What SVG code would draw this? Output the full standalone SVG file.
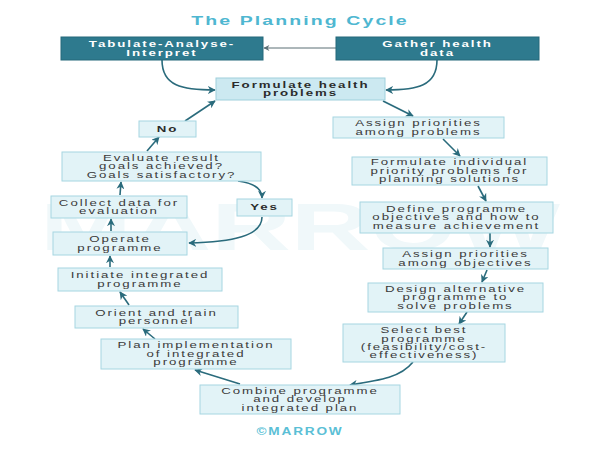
<svg xmlns="http://www.w3.org/2000/svg" width="600" height="450" viewBox="0 0 600 450">
<defs>
<style>
.bx{fill:#e2f3f7;stroke:#a6d6e1;stroke-width:1}
.bx2{fill:#cce9f1;stroke:#9fd0dc;stroke-width:1}
.dk{fill:#2e7a8e;stroke:#24687a;stroke-width:1}
.t{font-family:"Liberation Sans",Arial,sans-serif;font-size:8.2px;letter-spacing:1.2px;fill:#3a3a3a;text-anchor:middle}
.tb{font-family:"Liberation Sans",Arial,sans-serif;font-size:8.2px;font-weight:bold;letter-spacing:1.2px;fill:#2b2b2b;text-anchor:middle}
.tw{font-family:"Liberation Sans",Arial,sans-serif;font-size:8.2px;font-weight:bold;letter-spacing:1.2px;fill:#ffffff;text-anchor:middle}
.c{fill:none;stroke:#2a6b7c;stroke-width:1.6;marker-end:url(#ah)}
.c2{fill:none;stroke:#5b6f75;stroke-width:1;marker-end:url(#ah2)}
</style>
<marker id="ah" viewBox="0 0 10 10" refX="9" refY="5" markerWidth="8" markerHeight="8" markerUnits="userSpaceOnUse" orient="auto"><path d="M0,0 L10,5 L0,10 L3,5 z" fill="#2a6b7c"/></marker>
<marker id="ah2" viewBox="0 0 10 10" refX="9" refY="5" markerWidth="7" markerHeight="6" markerUnits="userSpaceOnUse" orient="auto"><path d="M0,0 L10,5 L0,10 L3,5 z" fill="#5b6f75"/></marker>
</defs>
<rect width="600" height="450" fill="#ffffff"/>
<text x="40" y="250" font-family="Liberation Sans,Arial,sans-serif" font-size="66" font-weight="bold" fill="#f0f8fa" textLength="520" lengthAdjust="spacingAndGlyphs">MARROW</text>
<text transform="translate(300,25) scale(1.5,1)" x="0" y="0" font-family="Liberation Sans,Arial,sans-serif" font-size="13" font-weight="bold" letter-spacing="1.4" fill="#4fb7d1" text-anchor="middle">The Planning Cycle</text>

<g id="connectors">
<path class="c2" d="M336,48 L264,48"/>
<path class="c" d="M162,60 C162,86 182,90 215,90"/>
<path class="c" d="M437,60 C437,86 417,90 386,90"/>
<path class="c" d="M383,101 L413,116"/>
<path class="c" d="M185,121 L215,101"/>
<path class="c" d="M147,151 L159,137"/>
<path class="c" d="M120,195 L121,182"/>
<path class="c" d="M111,231 L111,219"/>
<path class="c" d="M238,181 C254,183 262,188 262,198"/>
<path class="c" d="M262,217 C262,236 232,242 189,243"/>
<path class="c" d="M110,267 L110,256"/>
<path class="c" d="M129,305 L120,292"/>
<path class="c" d="M155,339 L143,329"/>
<path class="c" d="M240,384 L195,370"/>
<path class="c" d="M413,362 C401,377 382,380 350,385"/>
<path class="c" d="M467,312 L459,324"/>
<path class="c" d="M487,270 L482,282"/>
<path class="c" d="M490,233 L490,247"/>
<path class="c" d="M478,186 L486,201"/>
<path class="c" d="M443,139 L460,156"/>
</g>

<g id="n-tabulate"><rect class="dk" x="61" y="37" width="202" height="23"/><text class="tw" transform="translate(162,0) scale(1.62,1)"><tspan x="0" y="47.2">Tabulate-Analyse-</tspan><tspan x="0" y="55.6">Interpret</tspan></text></g>
<g id="n-gather"><rect class="dk" x="336" y="37" width="203" height="23"/><text class="tw" transform="translate(437.5,0) scale(1.62,1)"><tspan x="0" y="47.2">Gather health</tspan><tspan x="0" y="55.6">data</tspan></text></g>
<g id="n-formulate"><rect class="bx2" x="216" y="78" width="169" height="22"/><text class="tb" transform="translate(300.5,0) scale(1.62,1)"><tspan x="0" y="87.7">Formulate health</tspan><tspan x="0" y="96.1">problems</tspan></text></g>
<g id="n-no"><rect class="bx" x="139" y="121" width="57" height="16"/><text class="tb" transform="translate(167.5,0) scale(1.62,1)"><tspan x="0" y="132">No</tspan></text></g>
<g id="n-evaluate"><rect class="bx" x="62" y="152" width="199" height="29"/><text class="t" transform="translate(161.5,0) scale(1.62,1)"><tspan x="0" y="161">Evaluate result</tspan><tspan x="0" y="169.4">goals achieved?</tspan><tspan x="0" y="177.8">Goals satisfactory?</tspan></text></g>
<g id="n-collect"><rect class="bx" x="51" y="196" width="136" height="22"/><text class="t" transform="translate(119,0) scale(1.62,1)"><tspan x="0" y="205.7">Collect data for</tspan><tspan x="0" y="214.1">evaluation</tspan></text></g>
<g id="n-yes"><rect class="bx" x="237" y="199" width="55" height="17"/><text class="tb" transform="translate(264.5,0) scale(1.62,1)"><tspan x="0" y="210.5">Yes</tspan></text></g>
<g id="n-operate"><rect class="bx" x="53" y="232" width="134" height="23"/><text class="t" transform="translate(120,0) scale(1.62,1)"><tspan x="0" y="242.2">Operate</tspan><tspan x="0" y="250.6">programme</tspan></text></g>
<g id="n-initiate"><rect class="bx" x="58" y="268" width="164" height="23"/><text class="t" transform="translate(140,0) scale(1.62,1)"><tspan x="0" y="278.2">Initiate integrated</tspan><tspan x="0" y="286.6">programme</tspan></text></g>
<g id="n-orient"><rect class="bx" x="75" y="306" width="163" height="22"/><text class="t" transform="translate(156.5,0) scale(1.62,1)"><tspan x="0" y="315.7">Orient and train</tspan><tspan x="0" y="324.1">personnel</tspan></text></g>
<g id="n-plan"><rect class="bx" x="101" y="339" width="190" height="30"/><text class="t" transform="translate(196,0) scale(1.62,1)"><tspan x="0" y="348.5">Plan implementation</tspan><tspan x="0" y="356.9">of integrated</tspan><tspan x="0" y="365.3">programme</tspan></text></g>
<g id="n-combine"><rect class="bx" x="200" y="385" width="200" height="29"/><text class="t" transform="translate(300,0) scale(1.62,1)"><tspan x="0" y="394">Combine programme</tspan><tspan x="0" y="402.4">and develop</tspan><tspan x="0" y="410.8">integrated plan</tspan></text></g>
<g id="n-select"><rect class="bx" x="343" y="324" width="162" height="38"/><text class="t" transform="translate(424,0) scale(1.62,1)"><tspan x="0" y="333.3">Select best</tspan><tspan x="0" y="341.7">programme</tspan><tspan x="0" y="350.1">(feasibility/cost-</tspan><tspan x="0" y="358.5">effectiveness)</tspan></text></g>
<g id="n-design"><rect class="bx" x="368" y="283" width="175" height="29"/><text class="t" transform="translate(455.5,0) scale(1.62,1)"><tspan x="0" y="292">Design alternative</tspan><tspan x="0" y="300.4">programme to</tspan><tspan x="0" y="308.8">solve problems</tspan></text></g>
<g id="n-assign-obj"><rect class="bx" x="383" y="248" width="165" height="21"/><text class="t" transform="translate(465.5,0) scale(1.62,1)"><tspan x="0" y="257.2">Assign priorities</tspan><tspan x="0" y="265.6">among objectives</tspan></text></g>
<g id="n-define"><rect class="bx" x="360" y="202" width="193" height="31"/><text class="t" transform="translate(456.5,0) scale(1.62,1)"><tspan x="0" y="212">Define programme</tspan><tspan x="0" y="220.4">objectives and how to</tspan><tspan x="0" y="228.8">measure achievement</tspan></text></g>
<g id="n-formulate-ind"><rect class="bx" x="352" y="157" width="195" height="28"/><text class="t" transform="translate(449.5,0) scale(1.62,1)"><tspan x="0" y="165.5">Formulate individual</tspan><tspan x="0" y="173.9">priority problems for</tspan><tspan x="0" y="182.3">planning solutions</tspan></text></g>
<g id="n-assign-prob"><rect class="bx" x="333" y="117" width="171" height="21"/><text class="t" transform="translate(418.5,0) scale(1.62,1)"><tspan x="0" y="126.2">Assign priorities</tspan><tspan x="0" y="134.6">among problems</tspan></text></g>

<text transform="translate(300,434.5) scale(1.3,1)" x="0" y="0" font-family="Liberation Sans,Arial,sans-serif" font-size="10.5" font-weight="bold" letter-spacing="1.4" fill="#5bbfd6" text-anchor="middle">©MARROW</text>
</svg>
